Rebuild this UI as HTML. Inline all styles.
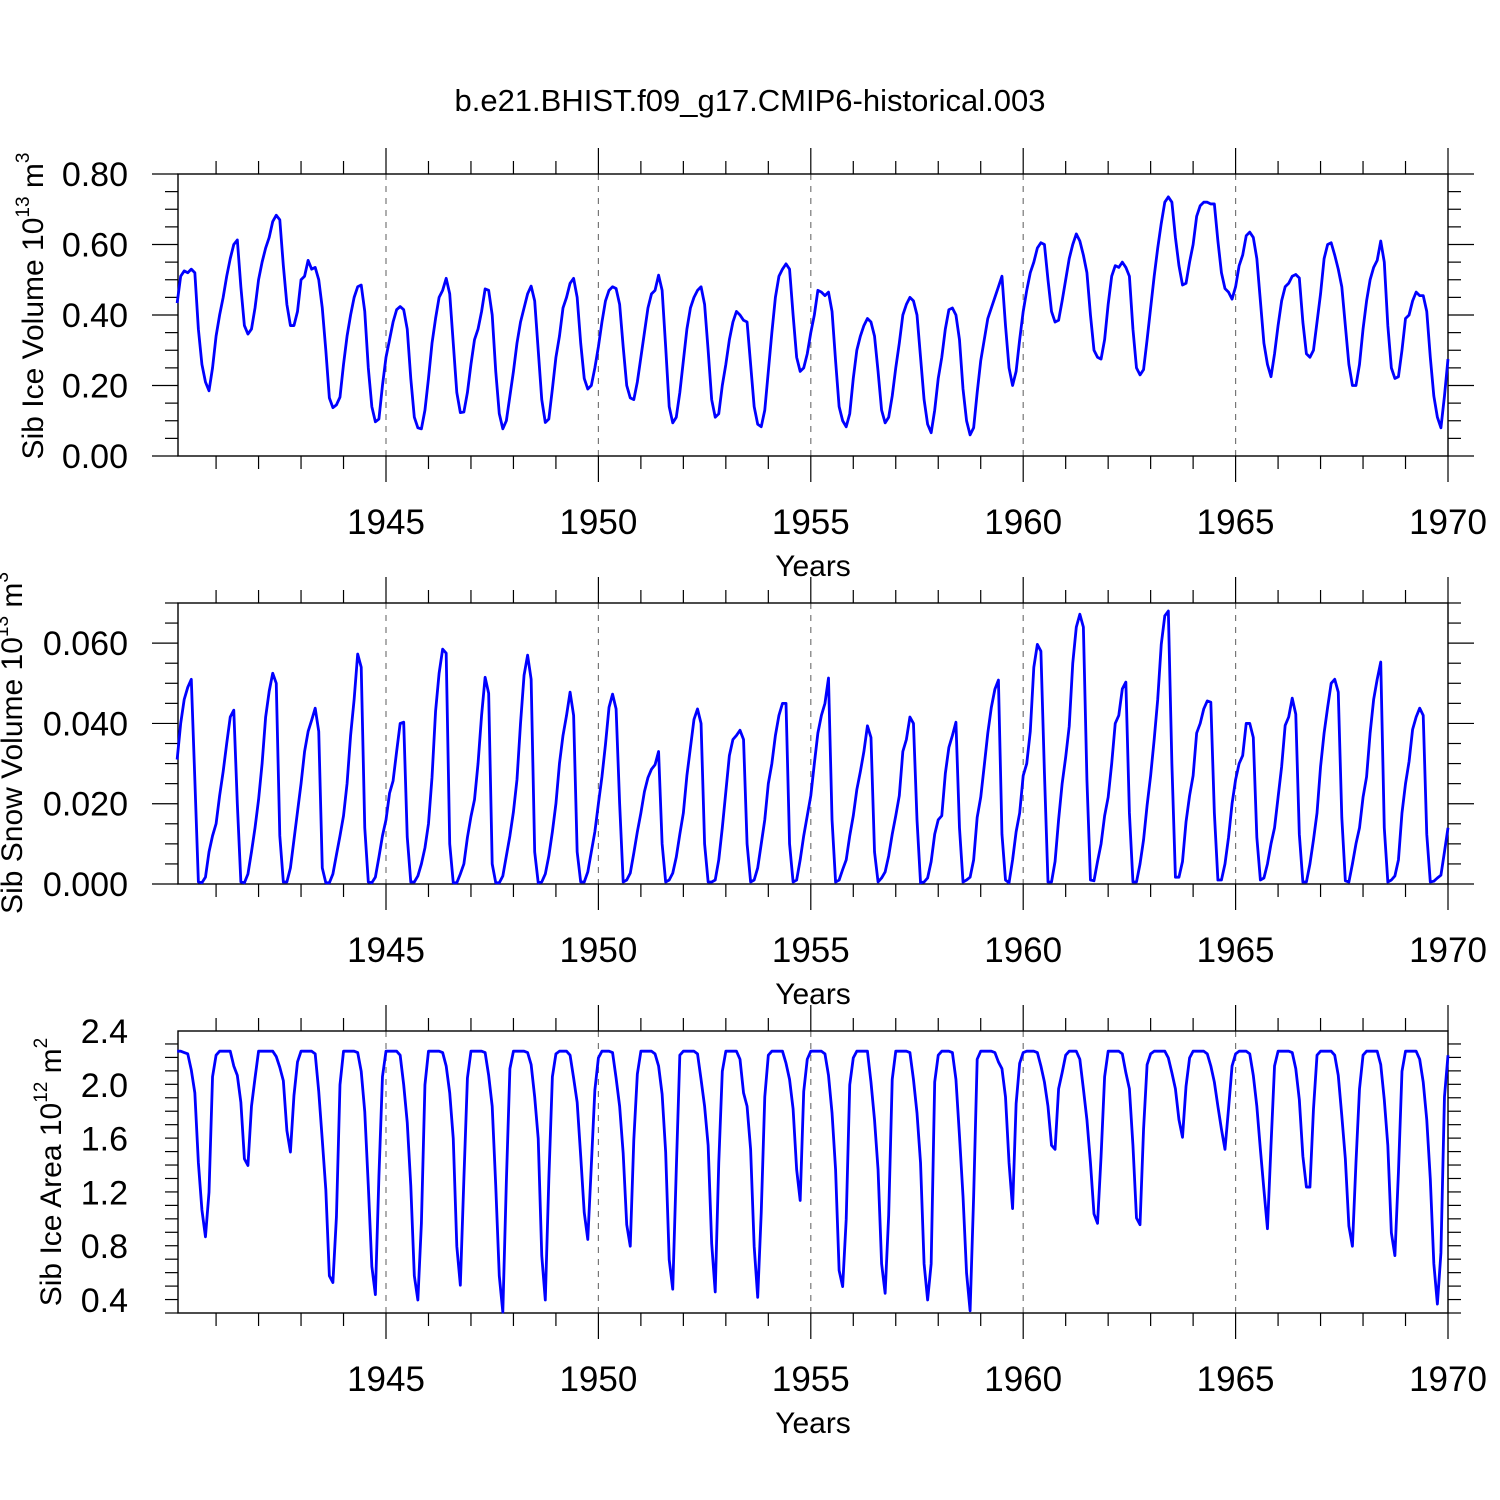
<!DOCTYPE html>
<html><head><meta charset="utf-8">
<style>
html,body{margin:0;padding:0;background:#fff;}
svg{display:block;font-family:"Liberation Sans",Arial,sans-serif;}
</style></head>
<body>
<svg id="chart" width="1500" height="1500" viewBox="0 0 1500 1500" xmlns="http://www.w3.org/2000/svg">
<rect x="0" y="0" width="1500" height="1500" fill="#fff"/>
<text x="750" y="111" font-size="31" text-anchor="middle">b.e21.BHIST.f09_g17.CMIP6-historical.003</text>
</svg>
<script>
// Years for monthly samples (12 per year)
const years = [1940,1941,1942,1943,1944,1945,1946,1947,1948,1949,1950,1951,1952,1953,1954,1955,1956,1957,1958,1959,1960,1961,1962,1963,1964,1965,1966,1967,1968,1969];
const xTickLabels = ["1945","1950","1955","1960","1965","1970"];
const xTickYears = [1945,1950,1955,1960,1965,1970];

// Sib Ice Volume (10^13 m^3), monthly
const iceVolume = [
.434,.51,.525,.52,.53,.52,.36,.26,.21,.185,.25,.34,
.40,.45,.51,.56,.60,.613,.48,.37,.346,.36,.42,.50,
.55,.59,.62,.665,.683,.67,.54,.43,.37,.37,.41,.50,
.51,.555,.53,.535,.50,.42,.30,.165,.137,.145,.167,.26,
.34,.40,.45,.48,.485,.41,.25,.14,.097,.105,.20,.28,
.33,.38,.415,.424,.415,.36,.22,.11,.08,.077,.13,.22,
.32,.39,.45,.47,.504,.46,.32,.18,.123,.125,.18,.26,
.33,.36,.41,.474,.47,.40,.24,.12,.077,.10,.17,.24,
.32,.38,.42,.46,.482,.44,.30,.16,.095,.105,.19,.28,
.34,.42,.45,.49,.504,.45,.32,.22,.19,.20,.25,.31,
.38,.44,.47,.48,.475,.43,.31,.20,.165,.16,.21,.28,
.35,.42,.46,.47,.513,.47,.31,.14,.094,.11,.18,.27,
.36,.42,.45,.47,.48,.43,.30,.16,.11,.12,.20,.26,
.33,.38,.41,.40,.385,.38,.26,.14,.09,.083,.13,.24,
.35,.45,.51,.53,.545,.53,.40,.28,.24,.25,.29,.35,
.40,.47,.465,.455,.465,.41,.27,.14,.10,.083,.12,.22,
.30,.34,.37,.39,.38,.34,.24,.13,.094,.11,.17,.25,
.32,.40,.43,.45,.44,.40,.28,.16,.09,.066,.13,.22,
.28,.36,.415,.42,.40,.33,.19,.10,.06,.08,.18,.27,
.33,.39,.42,.45,.48,.51,.37,.25,.20,.24,.33,.41,
.47,.52,.55,.59,.605,.60,.50,.41,.38,.385,.44,.50,
.56,.60,.63,.61,.57,.52,.40,.30,.28,.275,.33,.43,
.51,.54,.535,.55,.535,.51,.36,.25,.23,.245,.33,.42,
.51,.59,.66,.72,.735,.72,.62,.54,.485,.49,.55,.60,
.68,.71,.72,.72,.715,.715,.61,.52,.475,.465,.445,.48,
.54,.57,.625,.635,.62,.56,.44,.32,.26,.225,.29,.37,
.44,.48,.49,.51,.515,.505,.38,.29,.28,.30,.38,.46,
.56,.60,.605,.57,.53,.48,.37,.26,.20,.20,.26,.36,
.44,.50,.535,.555,.61,.55,.37,.25,.22,.225,.30,.39,
.40,.44,.465,.455,.455,.41,.28,.17,.11,.08,.17,.275
];

// Sib Snow Volume (10^13 m^3 x 1000), monthly
const snowVolume = [
31,40,46,49,51,26,0.5,0.3,1.7,8,12,15,
22,28,35,41.6,43.3,20,0.5,0.3,2.5,8,14,21,
30,41.6,48,52.5,50,12,0.5,0.5,4,11,18,25,
33,38,40.8,43.8,38,4,0.3,0.3,2.5,7.3,12,17,
25,37,46,57.3,54,14,0.5,0.3,1.7,6.7,12,16,
22.6,25.7,33,40,40.3,11.7,0.5,0.5,2,5,9,15,
26.6,43,52.5,58.5,57.5,10,0.3,0.3,2.5,5,11.6,16.8,
21,30,42,51.5,47.5,5,0.3,0.3,2,7,12,18,
26,40,52,57,51,8,0.3,0.5,2.5,7,13,20,
30,37,42,47.8,42,8,0.5,0.5,3,8,13,20,
26.7,34.8,44,47.3,43.6,20,0.5,1,2.7,7.7,13,17.7,
23,26.5,28.6,29.7,33,10,0.5,1,2.7,6.7,12.4,17.7,
27,34,41,43.6,40,10,0.5,0.5,1,6,14,23,
32,36,37,38.3,36,10,0.5,1,4,10,16,25,
30,37,42,45,45,10,0.5,1,6,12,17,22,
30,37.6,42,45,51.3,16,0.5,1,3.6,6,12,17,
23.5,28,33,39.4,36.5,8,0.5,1.5,3,7,12.4,17,
22,33,36,41.6,40,16,0.3,0.5,1.5,5.6,12.4,16,
17,27.5,34,37,40.3,14,0.5,1,1.7,6,16.6,21.6,
29.5,37.6,44,48.5,50.8,12.4,1,0.3,6,13,17.7,27,
30,38,54,59.7,58,27.6,0.5,0.5,5.6,16,25,31.6,
39.3,55,64,67.2,64,26,1,0.8,5.6,10,17,21.6,
30,40,42,48.6,50.3,17.7,0.5,0.5,5,11,19.6,27,
36,46,59.7,66.8,68,30,1.7,1.7,5.6,15.5,22,27,
37.6,40,43.6,45.6,45.3,17.7,1,1,5,11.6,20,26,
30,32,40,40,36.5,11.6,1,1.5,5,10,14,21.6,
29.2,39.5,41.6,46.3,42.3,12.4,0.5,0.5,5,11,17.7,29.2,
37.6,44,50,51,47.8,16.6,0.8,0.5,5,10,14,21.6,
26.7,37.6,46,51,55.3,14,0.5,1,2,6,17.7,25,
30.5,38.5,41.6,43.8,42,12.4,0.5,0.7,1.5,2.2,8,14
];

// Sib Ice Area (10^12 m^2), monthly
const iceArea = [
2.25,2.25,2.24,2.23,2.11,1.94,1.42,1.07,0.87,1.20,2.06,2.22,
2.25,2.25,2.25,2.25,2.14,2.07,1.87,1.45,1.40,1.84,2.05,2.25,
2.25,2.25,2.25,2.25,2.21,2.13,2.03,1.66,1.50,1.92,2.17,2.25,
2.25,2.25,2.25,2.23,1.95,1.59,1.22,0.58,0.53,1.02,2.00,2.25,
2.25,2.25,2.25,2.24,2.10,1.80,1.25,0.65,0.44,1.32,2.06,2.25,
2.25,2.25,2.25,2.22,2.00,1.72,1.25,0.58,0.40,0.97,2.00,2.25,
2.25,2.25,2.25,2.24,2.14,1.94,1.60,0.80,0.51,1.30,2.05,2.25,
2.25,2.25,2.25,2.24,2.07,1.84,1.25,0.58,0.31,1.28,2.12,2.25,
2.25,2.25,2.25,2.24,2.15,1.91,1.60,0.73,0.40,1.30,2.06,2.23,
2.25,2.25,2.25,2.22,2.05,1.87,1.47,1.05,0.85,1.40,1.96,2.20,
2.25,2.25,2.25,2.24,2.05,1.84,1.49,0.96,0.80,1.59,2.08,2.25,
2.25,2.25,2.25,2.23,2.14,1.93,1.50,0.70,0.48,1.37,2.22,2.25,
2.25,2.25,2.25,2.23,2.04,1.84,1.55,0.82,0.46,1.42,2.10,2.25,
2.25,2.25,2.25,2.19,1.94,1.84,1.52,0.80,0.42,1.05,1.91,2.22,
2.25,2.25,2.25,2.25,2.16,2.04,1.82,1.37,1.14,1.95,2.19,2.25,
2.25,2.25,2.25,2.23,2.07,1.79,1.37,0.62,0.50,1.00,2.00,2.20,
2.25,2.25,2.25,2.25,2.02,1.74,1.37,0.67,0.45,1.03,2.04,2.25,
2.25,2.25,2.25,2.24,2.04,1.79,1.42,0.67,0.40,0.67,2.02,2.22,
2.25,2.25,2.25,2.24,2.04,1.62,1.17,0.60,0.32,1.17,2.19,2.25,
2.25,2.25,2.25,2.24,2.17,2.12,1.91,1.42,1.08,1.86,2.16,2.24,
2.25,2.25,2.25,2.24,2.14,2.02,1.84,1.55,1.52,1.97,2.09,2.22,
2.25,2.25,2.25,2.19,1.97,1.74,1.42,1.04,0.97,1.47,2.06,2.25,
2.25,2.25,2.25,2.23,2.09,1.97,1.55,1.01,0.96,1.67,2.15,2.23,
2.25,2.25,2.25,2.25,2.20,2.09,1.97,1.74,1.61,1.99,2.20,2.25,
2.25,2.25,2.25,2.23,2.14,2.02,1.84,1.67,1.52,1.82,2.14,2.23,
2.25,2.25,2.25,2.23,2.07,1.84,1.52,1.22,0.93,1.55,2.14,2.25,
2.25,2.25,2.25,2.24,2.12,1.89,1.47,1.24,1.24,1.82,2.22,2.25,
2.25,2.25,2.25,2.22,2.07,1.77,1.45,0.95,0.80,1.42,1.97,2.22,
2.25,2.25,2.25,2.25,2.15,1.89,1.55,0.90,0.73,1.35,2.10,2.25,
2.25,2.25,2.25,2.19,2.02,1.74,1.30,0.67,0.37,0.75,1.91,2.22
];

const p1Ticks = [0,0.2,0.4,0.6,0.8];
const p1Labels = ["0.00","0.20","0.40","0.60","0.80"];
const p2Ticks = [0,20,40,60];
const p2Labels = ["0.000","0.020","0.040","0.060"];
const p3Ticks = [0.4,0.8,1.2,1.6,2.0,2.4];
const p3Labels = ["0.4","0.8","1.2","1.6","2.0","2.4"];

const NS = "http://www.w3.org/2000/svg";
const svg = document.getElementById('chart');
const X0 = 178, X1 = 1448;
function xScale(t){ return 173.6 + (t - 1940) * 42.48; }
function mk(tag, attrs, parent){
  const e = document.createElementNS(NS, tag);
  for (const k in attrs) e.setAttribute(k, attrs[k]);
  (parent || svg).appendChild(e);
  return e;
}

function panel(cfg){
  const g = mk('g', {});
  
  
  const yS = v => cfg.yBot - (v - cfg.vmin) / (cfg.vmax - cfg.vmin) * (cfg.yBot - cfg.yTop);
  xTickYears.forEach(yr => {
    if (yr >= 1970) return;
    const gl = mk('line', {x1:xScale(yr), x2:xScale(yr), y1:cfg.yTop, y2:cfg.yBot, stroke:'#777', 'stroke-width':1.2, 'stroke-dasharray':'6,6'}, g);
    
    
  });
  for (let yr = 1941; yr <= 1970; yr++) {
    const x = xScale(yr);
    const major = yr % 5 === 0;
    const len = major ? 26 : 13;
    const tb = mk('line', {x1:x, x2:x, y1:cfg.yBot, y2:cfg.yBot + len, stroke:'#000', 'stroke-width':1.2}, g);
    
    
    const tt = mk('line', {x1:x, x2:x, y1:cfg.yTop, y2:cfg.yTop - len, stroke:'#000', 'stroke-width':1.2}, g);
    
    
  }
  for (let v = cfg.vmin; v <= cfg.vmax + 1e-9; v += cfg.minor) {
    const y = yS(v);
    const isMajor = cfg.ticks.some(t => Math.abs(t - v) < 1e-6);
    const len = isMajor ? 26 : 13;
    const l = mk('line', {x1:X0 - len, x2:X0, y1:y, y2:y, stroke:'#000', 'stroke-width':1.2}, g);
    
    
    const r = mk('line', {x1:X1, x2:X1 + len, y1:y, y2:y, stroke:'#000', 'stroke-width':1.2}, g);
    
    
  }
  const fr = mk('rect', {x:X0, y:cfg.yTop, width:X1 - X0, height:cfg.yBot - cfg.yTop, fill:'none', stroke:'#000', 'stroke-width':1.4}, g);
  
  
  cfg.ticks.forEach((v, i) => {
    const t = mk('text', {x:128, y:yS(v) + 12, 'font-size':34, 'text-anchor':'end'}, g);
    t.textContent = cfg.labels[i];
    
    
  });
  xTickYears.forEach((yr, i) => {
    const t = mk('text', {x:xScale(yr), y:cfg.yBot + 78, 'font-size':35, 'text-anchor':'middle'}, g);
    t.textContent = xTickLabels[i];
    
    
  });
  const xt = mk('text', {x:813, y:cfg.yBot + 120, 'font-size':30, 'text-anchor':'middle'}, g);
  xt.textContent = 'Years';
  
  
  const yt = mk('text', {transform:`translate(${cfg.titleX},${cfg.titleY}) rotate(-90)`, 'font-size':30, 'text-anchor':'middle'}, g);
  
  
  yt.innerHTML = cfg.title + ' 10<tspan dy="-14" font-size="19">' + cfg.exp + '</tspan><tspan dy="14"> m</tspan><tspan dy="-14" font-size="19">' + cfg.exp2 + '</tspan>';
  let d = '';
  cfg.data.forEach((v, i) => {
    const yr = years[Math.floor(i / 12)];
    const t = yr + ((i % 12) + 1) / 12;
    d += (i ? 'L' : 'M') + xScale(t).toFixed(2) + ',' + yS(v).toFixed(2);
  });
  const p = mk('path', {d:d, fill:'none', stroke:'#0000ff', 'stroke-width':2.8, 'stroke-linejoin':'round'}, g);
  
  
}

panel({name:'ice-volume-panel', yTop:174, yBot:456, vmin:0, vmax:0.8, minor:0.05, ticks:p1Ticks, labels:p1Labels,
  title:'Sib Ice Volume', exp:'13', exp2:'3', titleX:43, titleY:306, data:iceVolume});
panel({name:'snow-volume-panel', yTop:603, yBot:884, vmin:0, vmax:70, minor:5, ticks:p2Ticks, labels:p2Labels,
  title:'Sib Snow Volume', exp:'13', exp2:'3', titleX:22, titleY:743, data:snowVolume});
panel({name:'ice-area-panel', yTop:1031, yBot:1313, vmin:0.3036, vmax:2.4, minor:0.1, ticks:p3Ticks, labels:p3Labels,
  title:'Sib Ice Area', exp:'12', exp2:'2', titleX:61, titleY:1172, data:iceArea});
</script>
</body></html>
